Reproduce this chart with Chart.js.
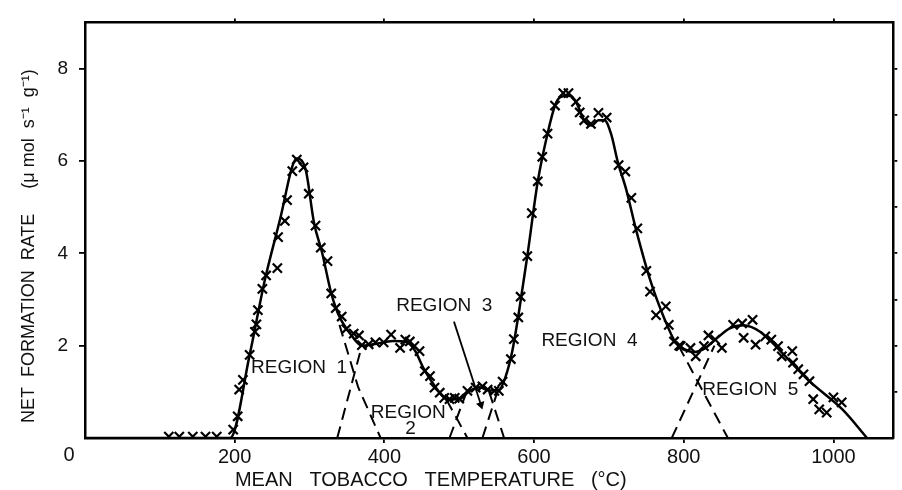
<!DOCTYPE html>
<html><head><meta charset="utf-8">
<script src="https://cdn.jsdelivr.net/npm/chart.js@4.4.1/dist/chart.umd.min.js"></script>
<style>html,body{margin:0;padding:0;background:#fff}#wrap{width:902px;height:490px}</style>
</head><body><div id="wrap"><canvas id="c" width="902" height="490"></canvas></div>
<script>
// ---- tick labels ----
const xTickValues = [200, 400, 600, 800, 1000];
const yTickValues = [2, 4, 6, 8];
const yRightTickValues = [1, 2, 3, 4, 5, 6, 7, 8];

// ---- measured points (x marks) ----
const measuredT = [112,126,144,161,176,
  198,204,206,211,220,227,229,231,237,242,257,258,267,270,277,283,292,299,308,315,324,329,335,343,349,359,366,370,
  379,388,399,409,421,428,434,440,447,454,461,467,474,480,487,494,500,511,522,531,538,547,553,558,
  569,573,579,582,591,597,605,611,618,628,639,646,656,661,667,676,686,697,713,722,730,738,750,755,763,776,780,787,794,
  796,809,816,827,833,842,851,866,878,880,892,896,909,917,926,931,945,946,953,960,968,973,981,991,1000,1011];
const measuredRate = [0.03,0.03,0.03,0.03,0.03,
  0.18,0.47,1.05,1.26,1.80,2.30,2.46,2.77,3.23,3.52,3.68,4.35,4.70,5.15,5.78,6.03,5.86,5.29,4.60,4.12,3.83,3.13,2.81,2.63,2.36,2.26,2.22,2.01,
  2.03,2.07,2.07,2.24,1.95,2.13,2.09,1.99,1.88,1.45,1.34,1.09,0.98,0.87,0.84,0.87,0.85,1.02,1.09,1.12,1.05,1.02,1.02,1.22,
  1.71,2.14,2.61,3.06,3.94,4.87,5.56,6.09,6.59,7.20,7.47,7.47,7.28,7.05,6.88,6.80,7.04,6.94,5.91,5.77,5.20,4.54,3.62,3.17,2.66,2.85,2.45,2.09,2.00,
  1.99,1.95,1.77,1.99,2.22,2.13,1.95,2.45,2.48,2.17,2.56,2.02,2.20,2.13,1.99,1.77,1.88,1.63,1.49,1.38,1.23,0.84,0.62,0.55,0.88,0.77];

// ---- fitted total curve ----
const fitT =    [0,194,220,240,262,277,283,295,306,317,328,335,343,353,362,370,385,412,430,441,452,463,474,485,500,513,527,540,553,562,571,580,591,605,618,628,635,646,655,668,677,686,694,703,712,723,736,756,774,789,800,814,827,842,862,880,902,924,968,1012,1045];
const fitRate = [0,0,1.80,3.40,4.83,5.88,6.05,5.80,4.66,4.00,3.20,2.82,2.53,2.29,2.10,2.00,2.03,2.10,2.07,1.89,1.52,1.23,0.98,0.84,0.84,1.01,1.10,1.03,1.04,1.33,1.89,2.75,3.94,5.56,6.59,7.20,7.38,7.41,7.31,6.85,6.77,6.88,6.88,6.58,5.97,5.39,4.53,3.38,2.59,2.07,1.93,1.86,1.93,2.13,2.38,2.44,2.30,1.97,1.23,0.62,0];

// ---- resolved region components (dashed) ----
const region1TailT = [340,365,395];   const region1TailRate = [2.45,1.10,0];
const region2RiseT = [337,370];       const region2RiseRate = [0,2.0];
const region2FallT = [483,511];       const region2FallRate = [0.83,0];
const region3RiseT = [487,509];       const region3RiseRate = [0,0.96];
const region3FallT = [540,560];       const region3FallRate = [1.0,0];
const region4RiseT = [531,555];       const region4RiseRate = [0,1.2];
const region4FallT = [793,859];       const region4FallRate = [2.0,0];
const region5RiseT = [784,841];       const region5RiseRate = [0,2.0];

// ---- annotations ----
const regionLabels = ['REGION  1', 'REGION', '2', 'REGION  3', 'REGION  4', 'REGION  5'];
const regionLabelT = [286, 432, 435, 480, 674, 889];
const regionLabelRate = [1.52, 0.55, 0.2, 2.87, 2.11, 1.05];
const arrowT = [493, 529];
const arrowRate = [2.52, 0.72];

const pts = (xs, ys) => xs.map((x, i) => ({x, y: ys[i]}));
const FONT = '"Liberation Sans", Arial, sans-serif';

const dashed = (xs, ys) => ({
  data: pts(xs, ys), showLine: true, borderColor: '#000', borderWidth: 2,
  borderDash: [12, 7], pointRadius: 0, fill: false, tension: 0
});

const overlay = {
  id: 'overlay',
  afterDatasetsDraw(chart) {
    const {ctx, chartArea, scales} = chart;
    ctx.save();
    ctx.fillStyle = '#111';
    ctx.font = '19px ' + FONT;
    ctx.textAlign = 'center';
    ctx.textBaseline = 'middle';
    regionLabels.forEach((t, i) => {
      ctx.fillText(t, scales.x.getPixelForValue(regionLabelT[i]), scales.y.getPixelForValue(regionLabelRate[i]));
    });
    ctx.font = '20px ' + FONT;
    ctx.fillText('0', chartArea.left - 16, chartArea.bottom + 17);
    ctx.restore();
  }
};

new Chart(document.getElementById('c'), {
  type: 'scatter',
  data: {
    datasets: [
      { data: pts(measuredT, measuredRate), pointStyle: 'crossRot', pointRadius: 6.5,
        pointBorderWidth: 2.2, borderColor: '#000', backgroundColor: '#000', showLine: false },
      { data: pts(fitT, fitRate), showLine: true, borderColor: '#000', borderWidth: 2.5,
        pointRadius: 0, cubicInterpolationMode: 'monotone', fill: false },
      dashed(region1TailT, region1TailRate),
      dashed(region2RiseT, region2RiseRate),
      dashed(region2FallT, region2FallRate),
      dashed(region3RiseT, region3RiseRate),
      dashed(region3FallT, region3FallRate),
      dashed(region4RiseT, region4RiseRate),
      dashed(region4FallT, region4FallRate),
      dashed(region5RiseT, region5RiseRate),
      { data: pts(arrowT, arrowRate), showLine: true, borderColor: '#000', borderWidth: 1.8,
        pointRadius: [0, 5], pointStyle: 'triangle', pointRotation: 163,
        backgroundColor: '#000', pointBorderWidth: 0 }
    ]
  },
  options: {
    responsive: false, animation: false, devicePixelRatio: 1,
    layout: { padding: 0 },
    plugins: { legend: { display: false }, tooltip: { enabled: false } },
    scales: {
      x: {
        type: 'linear', position: 'bottom', min: 0, max: 1080,
        afterBuildTicks: s => { s.ticks = xTickValues.map(v => ({value: v})); },
        ticks: { color: '#111', font: { family: FONT, size: 20 }, padding: 2, maxRotation: 0,
                 callback: v => String(v) },
        grid: { drawOnChartArea: false, drawTicks: true, tickLength: 5, color: '#000', lineWidth: 1.8 },
        border: { display: true, color: '#000', width: 2.5 },
        title: { display: true,
                 text: 'MEAN   TOBACCO   TEMPERATURE   (°C)                     ',
                 color: '#111', font: { family: FONT, size: 20, lineHeight: 1 }, padding: { top: 2, bottom: 0 } },
        afterFit: s => { s.height = 52; }
      },
      x2: {
        type: 'linear', position: 'top', min: 0, max: 1080,
        afterBuildTicks: s => { s.ticks = xTickValues.map(v => ({value: v})); },
        ticks: { display: false },
        grid: { drawOnChartArea: false, drawTicks: true, tickLength: 4, color: '#000', lineWidth: 1.8 },
        border: { display: true, color: '#000', width: 2.5 },
        afterFit: s => { s.height = 20; }
      },
      y: {
        type: 'linear', position: 'left', min: 0, max: 9,
        afterBuildTicks: s => { s.ticks = yTickValues.map(v => ({value: v})); },
        ticks: { color: '#111', font: { family: FONT, size: 19 }, padding: 11 },
        grid: { drawOnChartArea: false, drawTicks: true, tickLength: 6, color: '#000', lineWidth: 1.8 },
        border: { display: true, color: '#000', width: 2.5 },
        title: { display: true, align: 'start',
                 text: '   NET  FORMATION  RATE     (μ mol  s⁻¹  g⁻¹)', color: '#111',
                 font: { family: FONT, size: 18 }, padding: { top: 18, bottom: 0 } },
        afterFit: s => { s.width = 85; }
      },
      y2: {
        type: 'linear', position: 'right', min: 0, max: 9,
        afterBuildTicks: s => { s.ticks = yRightTickValues.map(v => ({value: v})); },
        ticks: { display: false },
        grid: { drawOnChartArea: false, drawTicks: true, tickLength: 4, color: '#000', lineWidth: 1.8 },
        border: { display: true, color: '#000', width: 2.5 },
        afterFit: s => { s.width = 4; }
      }
    }
  },
  plugins: [overlay]
});
</script>
</body></html>
